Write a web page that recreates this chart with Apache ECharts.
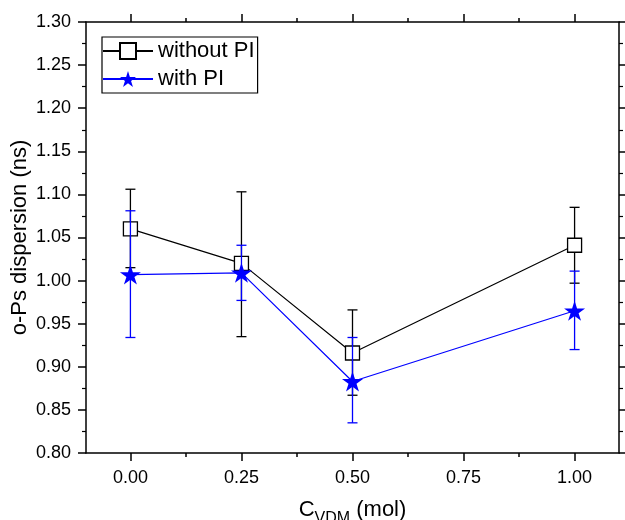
<!DOCTYPE html>
<html>
<head>
<meta charset="utf-8">
<script src="https://cdn.jsdelivr.net/npm/echarts@6/dist/echarts.min.js"></script>
<style>
  html, body { margin: 0; padding: 0; background: #fff; }
  #chart { width: 625px; height: 520px; }
</style>
</head>
<body>
<div id="chart"></div>
<script>
// data
var xValues = [0.00, 0.25, 0.50, 1.00];
var withoutPI = [1.060, 1.020, 0.916, 1.041];
var withoutPILow = [1.015, 0.935, 0.867, 0.997];
var withoutPIHigh = [1.106, 1.103, 0.966, 1.085];
var withPI = [1.007, 1.009, 0.883, 0.965];
var withPILow = [0.934, 0.977, 0.835, 0.920];
var withPIHigh = [1.081, 1.041, 0.934, 1.011];

// tick positions on the x axis (range starts at -0.1)
var xMajorTicks = [0.00, 0.25, 0.50, 0.75, 1.00];
var xMinorTicks = [0.125, 0.375, 0.625, 0.875];

var FONT = 'Liberation Sans, Arial, sans-serif';
var BLUE = '#0000ff';
var star = 'path://M10,0 L12.245,6.91 L19.51,6.91 L13.633,11.18 L15.88,18.09 L10,13.82 L4.12,18.09 L6.367,11.18 L0.49,6.91 L7.755,6.91 Z';

var myChart = echarts.init(document.getElementById('chart'));

function pairs(ys) {
  return xValues.map(function (x, i) { return [x, ys[i]]; });
}
function errData(lo, hi) {
  return xValues.map(function (x, i) { return [x, lo[i], hi[i]]; });
}
// vertical error bar with caps
function errRender(color) {
  return function (params, api) {
    var x = api.value(0);
    var top = api.coord([x, api.value(2)]);
    var bot = api.coord([x, api.value(1)]);
    var w = 5;
    var st = { stroke: color, lineWidth: 1.3 };
    return {
      type: 'group',
      children: [
        { type: 'line', shape: { x1: top[0], y1: top[1], x2: bot[0], y2: bot[1] }, style: st },
        { type: 'line', shape: { x1: top[0] - w, y1: top[1], x2: top[0] + w, y2: top[1] }, style: st },
        { type: 'line', shape: { x1: bot[0] - w, y1: bot[1], x2: bot[0] + w, y2: bot[1] }, style: st }
      ]
    };
  };
}

function xAx(pos, ticks, len, labels, line) {
  return {
    type: 'value',
    position: pos,
    min: -0.1,
    max: 1.1,
    axisLine: { show: line, onZero: false, lineStyle: { color: '#000', width: 1.5 } },
    axisTick: { show: true, customValues: ticks, length: len, inside: false, lineStyle: { color: '#000', width: 1.5 } },
    axisLabel: {
      show: labels, customValues: ticks, margin: 16,
      color: '#000', fontSize: 18, fontFamily: FONT,
      formatter: function (v) { return v.toFixed(2); }
    },
    splitLine: { show: false }
  };
}
function yAx(pos, labels) {
  return {
    type: 'value',
    position: pos,
    min: 0.8,
    max: 1.3,
    interval: 0.05,
    axisLine: { show: true, onZero: false, lineStyle: { color: '#000', width: 1.5 } },
    axisTick: { show: true, length: 8, inside: false, lineStyle: { color: '#000', width: 1.5 } },
    minorTick: { show: true, splitNumber: 2, length: 4, lineStyle: { color: '#000', width: 1.2 } },
    axisLabel: {
      show: labels, margin: 15, color: '#000', fontSize: 18, fontFamily: FONT,
      formatter: function (v) { return v.toFixed(2); }
    },
    splitLine: { show: false }
  };
}

var bottomAxis = xAx('bottom', xMajorTicks, 8, true, true);
bottomAxis.name = '{a|C}{b|VDM}{a| (mol)}';
bottomAxis.nameLocation = 'middle';
bottomAxis.nameGap = 46;
bottomAxis.nameMoveOverlap = false;
bottomAxis.nameTextStyle = {
  rich: {
    a: { fontSize: 22, fontFamily: FONT, color: '#000', lineHeight: 24, verticalAlign: 'top' },
    b: { fontSize: 16, fontFamily: FONT, color: '#000', lineHeight: 16, verticalAlign: 'top', padding: [12, 0, 0, 0] }
  }
};

var leftAxis = yAx('left', true);
leftAxis.name = 'o-Ps dispersion (ns)';
leftAxis.nameLocation = 'middle';
leftAxis.nameGap = 55;
leftAxis.nameMoveOverlap = false;
leftAxis.nameTextStyle = { fontSize: 22, fontFamily: FONT, color: '#000' };

var option = {
  animation: false,
  backgroundColor: '#fff',
  grid: { left: 86, right: 6, top: 22, bottom: 67, containLabel: false, outerBoundsMode: 'none' },
  legend: {
    orient: 'vertical',
    left: 102,
    top: 37,
    data: ['without PI', 'with PI'],
    itemWidth: 50,
    itemHeight: 20,
    itemGap: 6,
    padding: [3, 3, 3, 0],
    borderColor: '#000',
    borderWidth: 1.2,
    textStyle: { fontSize: 22, fontFamily: FONT, color: '#000', padding: [0, 0, 0, 0] }
  },
  xAxis: [
    bottomAxis,
    xAx('bottom', xMinorTicks, 4, false, false),
    xAx('top', xMajorTicks, 8, false, true),
    xAx('top', xMinorTicks, 4, false, false)
  ],
  yAxis: [leftAxis, yAx('right', false)],
  series: [
    {
      type: 'custom',
      name: 'errWithout',
      xAxisIndex: 0, yAxisIndex: 0,
      renderItem: errRender('#000'),
      data: errData(withoutPILow, withoutPIHigh),
      z: 1
    },
    {
      type: 'line',
      name: 'without PI',
      xAxisIndex: 0, yAxisIndex: 0,
      data: pairs(withoutPI),
      symbol: 'rect',
      symbolSize: 14,
      lineStyle: { color: '#000', width: 1.2 },
      itemStyle: { color: '#fff', borderColor: '#000', borderWidth: 1.3 },
      z: 2
    },
    {
      type: 'custom',
      name: 'errWith',
      xAxisIndex: 0, yAxisIndex: 0,
      renderItem: errRender(BLUE),
      data: errData(withPILow, withPIHigh),
      z: 3
    },
    {
      type: 'line',
      name: 'with PI',
      xAxisIndex: 0, yAxisIndex: 0,
      data: pairs(withPI),
      symbol: star,
      symbolSize: 21,
      symbolKeepAspect: true,
      lineStyle: { color: BLUE, width: 1.2 },
      itemStyle: { color: BLUE, borderWidth: 0 },
      z: 4
    }
  ]
};

myChart.setOption(option);
</script>
</body>
</html>
